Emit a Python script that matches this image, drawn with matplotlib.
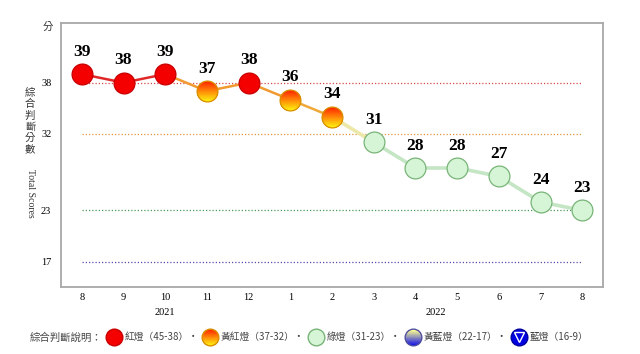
import numpy as np
import matplotlib.pyplot as plt
from matplotlib.lines import Line2D
from matplotlib.path import Path
from matplotlib.colors import to_rgb
from matplotlib.legend_handler import HandlerTuple
import matplotlib.transforms as mtransforms

plt.rcParams['font.family'] = ['Liberation Serif', 'Noto Sans CJK TC', 'DejaVu Sans']

# data
months = ['8', '9', '10', '11', '12', '1', '2', '3', '4', '5', '6', '7', '8']
scores = [39, 38, 39, 37, 38, 36, 34, 31, 28, 28, 27, 24, 23]
years = ['2021', '2022']
year_pos = [2, 8.5]
thresholds = [38, 32, 23, 17]
threshold_colors = ['#d84848', '#e0953c', '#4a9a5a', '#5a4aa8']
legend_labels = ['紅燈（45-38）·', '黃紅燈（37-32）·', '綠燈（31-23）·', '黃藍燈（22-17）·', '藍燈（16-9）']

def light(v):
    if v >= 38:
        return 'red'
    if v >= 32:
        return 'yr'
    return 'green'

def cap_below(h):
    # part of the unit circle that lies below y = h
    t = np.linspace(np.pi - np.arcsin(h), 2 * np.pi + np.arcsin(h), 60)
    verts = np.column_stack([np.cos(t), np.sin(t)])
    verts = np.vstack([verts, verts[:1]])
    return Path(verts, closed=True)

def gradient_marker(ax, x, y, top, bottom, size, edge, z=3, steps=14):
    c0, c1 = np.array(to_rgb(top)), np.array(to_rgb(bottom))
    ax.plot(x, y, marker='o', markersize=size, markerfacecolor=top,
            markeredgecolor='none', linestyle='none', zorder=z)
    for k, h in enumerate(np.linspace(0.85, -0.85, steps)):
        c = c0 + (c1 - c0) * (k + 1) / steps
        ax.plot(x, y, marker=cap_below(h), markersize=size, markerfacecolor=c,
                markeredgecolor='none', linestyle='none', zorder=z)
    ax.plot(x, y, marker='o', markersize=size, markerfacecolor='none',
            markeredgecolor=edge, markeredgewidth=0.9, linestyle='none', zorder=z)

seg_colors = {('red', 'red'): '#e02828', ('red', 'yr'): '#f09a30', ('yr', 'red'): '#f09a30',
              ('yr', 'yr'): '#f0a838', ('yr', 'green'): '#ece8a8', ('green', 'green'): '#c4e6c4'}

fig = plt.figure(figsize=(6.4, 3.54), dpi=100)
ax = fig.add_axes([0.0953, 0.189, 0.847, 0.746])

x = np.arange(len(months))
for v, c in zip(thresholds, threshold_colors):
    ax.plot([x[0], x[-1]], [v, v], color=c, lw=0.9, linestyle=(0, (1, 1.6)), zorder=1)

lights = [light(v) for v in scores]
for i in range(len(scores) - 1):
    lw = 2.6 if lights[i + 1] == 'green' else 1.8
    ax.plot(x[i:i + 2], scores[i:i + 2], color=seg_colors[(lights[i], lights[i + 1])],
            lw=lw, zorder=2, solid_capstyle='round')

msize = 15
for xi, v, l in zip(x, scores, lights):
    if l == 'red':
        ax.plot(xi, v, marker='o', markersize=msize, markerfacecolor='#f40000',
                markeredgecolor='#c80000', markeredgewidth=0.9, zorder=3)
    elif l == 'yr':
        gradient_marker(ax, xi, v, '#ff2a00', '#ffee10', msize, '#d89000')
    else:
        ax.plot(xi, v, marker='o', markersize=msize, markerfacecolor='#d6f5d6',
                markeredgecolor='#78b478', markeredgewidth=0.9, zorder=3)
    ax.annotate(str(v), (xi, v), xytext=(0, 16), textcoords='offset points',
                ha='center', va='center', fontsize=12.5, fontweight='bold', zorder=4)

ax.set_xlim(-0.5, 12.5)
ax.set_ylim(14, 45)
ax.set_xticks(x)
ax.set_xticklabels(months, fontsize=7.5)
ax.set_yticks(thresholds)
ax.set_yticklabels([str(t) for t in thresholds], fontsize=7.5)
ax.tick_params(length=0)
ax.tick_params(axis='y', pad=7)
ax.tick_params(axis='x', pad=4)
for s in ax.spines.values():
    s.set_color('#a8a8a8')
    s.set_linewidth(1.3)

trans = mtransforms.blended_transform_factory(ax.transData, ax.transAxes)
for yr, p in zip(years, year_pos):
    ax.text(p, -0.095, yr, transform=trans, ha='center', va='center', fontsize=7.5)

fig.text(0.074, 0.924, '分', fontsize=7.5, ha='center', va='center', color='#333333',
         family=['Noto Sans CJK TC'])
fig.text(0.047, 0.658, '\n'.join('綜合判斷分數'), fontsize=7.5, ha='center', va='center',
         linespacing=1.15, color='#333333', family=['Noto Sans CJK TC'])
fig.text(0.047, 0.455, 'Total Scores', rotation=270, fontsize=7, ha='center', va='center',
         color='#333333')

# legend
h_red = Line2D([], [], linestyle='none', marker='o', markersize=12,
               markerfacecolor='#f40000', markeredgecolor='#c80000')
h_green = Line2D([], [], linestyle='none', marker='o', markersize=12,
                 markerfacecolor='#d6f5d6', markeredgecolor='#78b478')

def grad_handle(top, bottom, edge, steps=10):
    c0, c1 = np.array(to_rgb(top)), np.array(to_rgb(bottom))
    parts = [Line2D([], [], linestyle='none', marker='o', markersize=12,
                    markerfacecolor=top, markeredgecolor='none')]
    for k, h in enumerate(np.linspace(0.8, -0.8, steps)):
        c = c0 + (c1 - c0) * (k + 1) / steps
        parts.append(Line2D([], [], linestyle='none', marker=cap_below(h), markersize=12,
                            markerfacecolor=c, markeredgecolor='none'))
    parts.append(Line2D([], [], linestyle='none', marker='o', markersize=12,
                        markerfacecolor='none', markeredgecolor=edge))
    return tuple(parts)

h_yr = grad_handle('#ff2a00', '#ffee10', '#d89000')
h_yb = grad_handle('#ffff90', '#1818e8', '#5050a0')
h_blue = (Line2D([], [], linestyle='none', marker='o', markersize=12,
                 markerfacecolor='#0000e0', markeredgecolor='#0000a0'),
          Line2D([], [], linestyle='none', marker='v', markersize=7.5,
                 markerfacecolor='none', markeredgecolor='white', markeredgewidth=1))
fig.legend([h_red, h_yr, h_green, h_yb, h_blue], legend_labels,
           handler_map={tuple: HandlerTuple(ndivide=1)},
           ncol=5, loc='center left', bbox_to_anchor=(0.152, 0.047), frameon=False,
           handletextpad=0.3, columnspacing=0.4, handlelength=1.6,
           prop={'family': ['Noto Sans CJK TC', 'DejaVu Sans'], 'size': 7},
           labelcolor='#444444')
fig.text(0.047, 0.047, '綜合判斷說明：', fontsize=7.5, ha='left', va='center',
         color='#444444', family=['Noto Sans CJK TC'])

fig.savefig('out.png', dpi=100)
